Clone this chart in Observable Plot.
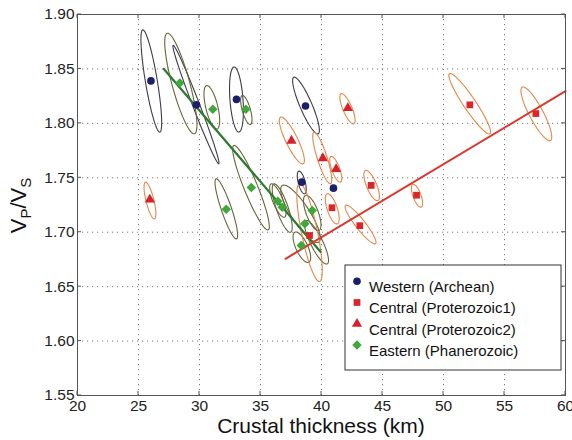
<!DOCTYPE html>
<html>
<head>
<meta charset="utf-8">
<script src="https://cdn.jsdelivr.net/npm/d3@7"></script>
<script src="https://cdn.jsdelivr.net/npm/@observablehq/plot@0.6"></script>
<style>
  html, body { margin: 0; padding: 0; background: #fff; }
  #chart { width: 572px; height: 440px; }
</style>
</head>
<body>
<div id="chart"></div>
<script>
// ---------- data ----------
const groups = ["Western (Archean)", "Central (Proterozoic1)", "Central (Proterozoic2)", "Eastern (Phanerozoic)"];

// Station estimates (crustal thickness km, Vp/Vs)
const westernX = [26.02, 29.75, 33.03, 38.69, 38.38, 40.98];
const westernY = [1.839, 1.817, 1.822, 1.816, 1.746, 1.7405];
const central1X = [40.86, 43.14, 44.07, 47.79, 52.16, 57.57, 39.02];
const central1Y = [1.7225, 1.706, 1.743, 1.734, 1.817, 1.809, 1.697];
const central2X = [25.93, 37.54, 40.11, 41.2, 42.16];
const central2Y = [1.730, 1.784, 1.768, 1.758, 1.814];
const easternX = [28.39, 31.09, 33.8, 32.19, 34.25, 36.42, 36.78, 39.24, 38.63, 38.34];
const easternY = [1.837, 1.813, 1.813, 1.721, 1.741, 1.7285, 1.723, 1.72, 1.7077, 1.6878];

// Uncertainty ellipses: kind (W/E/C), centre, major semi-axis (km, Vp/Vs), minor/major ratio
const ellKind  = ["W","W","W","W","W","E","E","E","E","E","E","E","E","E","E","E","C","C","C","C","C","C","C","C","C","C","C","C"];
const ellX     = [26.05,29.71,33.03,38.73,38.38, 28.47,31.01,33.84,32.20,34.22,36.42,36.78,38.28,39.24,38.39,39.59, 40.88,43.2,44.11,47.83,52.15,57.61,39.02,25.94,37.57,40.06,41.17,42.13];
const ellY     = [1.8389,1.8173,1.8219,1.8164,1.7457, 1.8366,1.8148,1.8123,1.7215,1.7409,1.7291,1.7222,1.7169,1.7177,1.6862,1.6908, 1.7215,1.7071,1.7429,1.7335,1.818,1.8088,1.6997,1.7291,1.7843,1.7682,1.7578,1.8134];
const ellDX    = [0.70,1.87,0.20,1.0,0.24, 1.12,0.43,0.34,0.84,1.41,0.55,0.68,1.50,0.55,0.57,0.88, 0.41,1.23,0.51,0.34,1.66,1.16,0.82,0.37,0.93,0.68,0.39,0.52];
const ellDV    = [0.0470,0.0544,0.0299,0.026,0.0104, 0.0462,0.0199,0.0133,0.0276,0.0388,0.0153,0.0222,0.026,0.0161,0.0138,0.0199, 0.0138,0.0176,0.0138,0.0104,0.0276,0.0245,0.045,0.0168,0.0214,0.0237,0.0118,0.0138];
const ellRatio = [0.115,0.055,0.2,0.195,0.3, 0.17,0.27,0.27,0.16,0.15,0.28,0.23,0.27,0.32,0.36,0.25, 0.32,0.2,0.31,0.33,0.17,0.23,0.16,0.21,0.23,0.18,0.29,0.28];

// Fitted trend lines
const fitEastX = [27.08, 39.92];
const fitEastY = [1.850, 1.682];
const fitCentralX = [37.05, 60];
const fitCentralY = [1.6756, 1.8296];

// Ticks
const xTicks = [20, 25, 30, 35, 40, 45, 50, 55, 60];
const yTicks = [1.55, 1.60, 1.65, 1.70, 1.75, 1.80, 1.85, 1.90];

// ---------- layout / styles ----------
const W = 572, H = 440, mL = 77, mR = 7, mT = 14, mB = 45;
const font = "'Liberation Sans', Arial, Helvetica, sans-serif";
const colors = {
  "Western (Archean)": "#1b1f6b",
  "Central (Proterozoic1)": "#d8262a",
  "Central (Proterozoic2)": "#d81f2a",
  "Eastern (Phanerozoic)": "#3ea83a"
};
// square rotated 45 degrees
const diamondSym = {
  draw(ctx, size) {
    const r = Math.sqrt(size / 2);
    ctx.moveTo(0, -r); ctx.lineTo(r, 0); ctx.lineTo(0, r); ctx.lineTo(-r, 0); ctx.closePath();
  }
};
const symbols = {
  "Western (Archean)": d3.symbolCircle,
  "Central (Proterozoic1)": d3.symbolSquare,
  "Central (Proterozoic2)": d3.symbolTriangle,
  "Eastern (Phanerozoic)": diamondSym
};
const ellColor = {W: "#3c3c4c", E: "#66653a", C: "#e2874a"};

// ---------- build tables ----------
const points = [];
[[westernX, westernY, groups[0]], [central1X, central1Y, groups[1]],
 [central2X, central2Y, groups[2]], [easternX, easternY, groups[3]]].forEach(([xs, ys, g]) => {
  xs.forEach((x, i) => points.push({x, y: ys[i], g}));
});

const kx = (W - mL - mR) / (xTicks[xTicks.length - 1] - xTicks[0]);
const ky = (H - mT - mB) / (yTicks[yTicks.length - 1] - yTicks[0]);
const ellPts = [];
const N = 72;
ellX.forEach((cx, i) => {
  const dx = ellDX[i], dv = ellDV[i], r = ellRatio[i];
  const bx = -r * dv * ky / kx;
  const bv = -r * dx * kx / ky;
  for (let k = 0; k < N; k++) {
    const t = 2 * Math.PI * k / N;
    ellPts.push({
      id: i, kind: ellKind[i],
      x: cx + Math.cos(t) * dx + Math.sin(t) * bx,
      y: ellY[i] - Math.cos(t) * dv + Math.sin(t) * bv
    });
  }
});

const fitEast = fitEastX.map((x, i) => ({x, y: fitEastY[i]}));
const fitCentral = fitCentralX.map((x, i) => ({x, y: fitCentralY[i]}));

// ---------- plot ----------
const plot = Plot.plot({
  width: W, height: H,
  marginLeft: mL, marginRight: mR, marginTop: mT, marginBottom: mB,
  style: {fontFamily: font, fontSize: "15px", color: "#222", background: "#fff", overflow: "visible"},
  x: {domain: [20, 60], label: null},
  y: {domain: [1.55, 1.90], label: null},
  symbol: {domain: groups, range: groups.map(g => symbols[g])},
  marks: [
    Plot.gridX(xTicks, {stroke: "#7a7a7a", strokeOpacity: 1, strokeWidth: 1, strokeDasharray: "1.2,3.8"}),
    Plot.gridY(yTicks, {stroke: "#7a7a7a", strokeOpacity: 1, strokeWidth: 1, strokeDasharray: "1.2,3.8"}),
    Plot.line(ellPts, {x: "x", y: "y", z: "id", stroke: d => ellColor[d.kind], strokeWidth: 1.1, curve: "linear-closed"}),
    Plot.line(fitEast, {x: "x", y: "y", stroke: "#2b7a2e", strokeWidth: 2.2}),
    Plot.line(fitCentral, {x: "x", y: "y", stroke: "#d9382a", strokeWidth: 2}),
    Plot.dot(points, {x: "x", y: "y", symbol: "g", fill: d => colors[d.g], r: 3.8, stroke: "none"}),
    Plot.frame({stroke: "#555", strokeWidth: 1}),
    Plot.axisX(xTicks, {tickSize: 0, tickPadding: 4, fontSize: 15.5, fill: "#222"}),
    Plot.axisY(yTicks, {tickSize: 0, tickPadding: 3, fontSize: 15.5, fill: "#222", tickFormat: d3.format(".2f")})
  ]
});

document.getElementById("chart").appendChild(plot);

// ---------- decorations: inward ticks, axis labels, legend ----------
const svg = d3.select(plot);
const sx = plot.scale("x"), sy = plot.scale("y");
const x0 = sx.apply(20), x1 = sx.apply(60), y0 = sy.apply(1.55), y1 = sy.apply(1.90);
const tk = svg.append("g").attr("stroke", "#555").attr("stroke-width", 1);
xTicks.forEach(v => {
  const px = sx.apply(v);
  tk.append("line").attr("x1", px).attr("x2", px).attr("y1", y0).attr("y2", y0 - 4);
  tk.append("line").attr("x1", px).attr("x2", px).attr("y1", y1).attr("y2", y1 + 4);
});
yTicks.forEach(v => {
  const py = sy.apply(v);
  tk.append("line").attr("y1", py).attr("y2", py).attr("x1", x0).attr("x2", x0 + 4);
  tk.append("line").attr("y1", py).attr("y2", py).attr("x1", x1).attr("x2", x1 - 4);
});

// x label
svg.append("text")
  .attr("x", (x0 + x1) / 2).attr("y", 433)
  .attr("text-anchor", "middle")
  .attr("font-family", font).attr("font-size", 21).attr("fill", "#111")
  .text("Crustal thickness (km)");

// y label with subscripts
const yl = svg.append("text")
  .attr("transform", `translate(26,${(y0 + y1) / 2 + 1}) rotate(-90)`)
  .attr("text-anchor", "middle")
  .attr("font-family", font).attr("font-size", 22).attr("fill", "#111");
yl.append("tspan").text("V");
yl.append("tspan").attr("font-size", 15).attr("dy", 5).text("P");
yl.append("tspan").attr("dy", -5).text("/V");
yl.append("tspan").attr("font-size", 15).attr("dy", 5).text("S");

// legend
const lg = svg.append("g").attr("font-family", font).attr("font-size", 15).attr("text-anchor", "start");
lg.append("rect").attr("x", 345).attr("y", 265).attr("width", 216).attr("height", 105)
  .attr("fill", "#fff").attr("stroke", "#333").attr("stroke-width", 1);
groups.forEach((g, i) => {
  const cy = 286.7 + i * 21.3;
  lg.append("path")
    .attr("d", d3.symbol(symbols[g], Math.PI * 3.8 * 3.8)())
    .attr("transform", `translate(357,${cy - 5.5})`)
    .attr("fill", colors[g]);
  lg.append("text").attr("x", 369).attr("y", cy).attr("dy", "0.35em")
    .attr("text-anchor", "start").attr("fill", "#111").text(g);
});
</script>
</body>
</html>
